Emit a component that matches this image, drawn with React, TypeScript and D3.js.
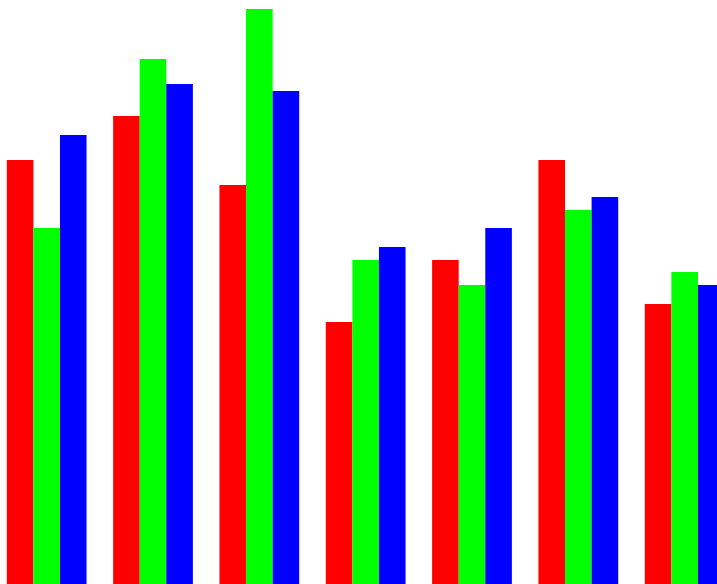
import React from "react";
import * as d3 from "d3";

const groups = ["G1", "G2", "G3", "G4", "G5", "G6", "G7"];
const seriesNames = ["red", "green", "blue"];
const redValues = [68, 75.04, 64, 42.08, 52, 68, 44.96];
const greenValues = [57.12, 84.16, 92.16, 52, 48, 60, 50.08];
const blueValues = [72, 80.16, 79.04, 54.08, 57.12, 62.08, 48];
const colors = ["#ff0000", "#00ff00", "#0000ff"];

const W = 717;
const H = 584;

export default function App() {
  const series = [redValues, greenValues, blueValues];
  const step = 106.33;
  const x0 = d3
    .scaleBand<string>()
    .domain(groups)
    .range([6.8, 6.8 + step * 6.75])
    .paddingInner(0.25)
    .paddingOuter(0);
  const x1 = d3
    .scaleBand<string>()
    .domain(seriesNames)
    .range([0, x0.bandwidth()]);
  const y = d3.scaleLinear().domain([0, 93.6]).range([585, 0]);

  return (
    <svg
      width={W}
      height={H}
      style={{ position: "absolute", left: 0, top: 0, display: "block" }}
    >
      {groups.map((g, gi) => (
        <g key={g} transform={`translate(${x0(g)},0)`}>
          {seriesNames.map((s, si) => {
            const v = series[si][gi];
            return (
              <rect
                key={s}
                x={x1(s)}
                y={y(v)}
                width={x1.bandwidth()}
                height={y(0) - y(v)}
                fill={colors[si]}
              />
            );
          })}
        </g>
      ))}
    </svg>
  );
}
